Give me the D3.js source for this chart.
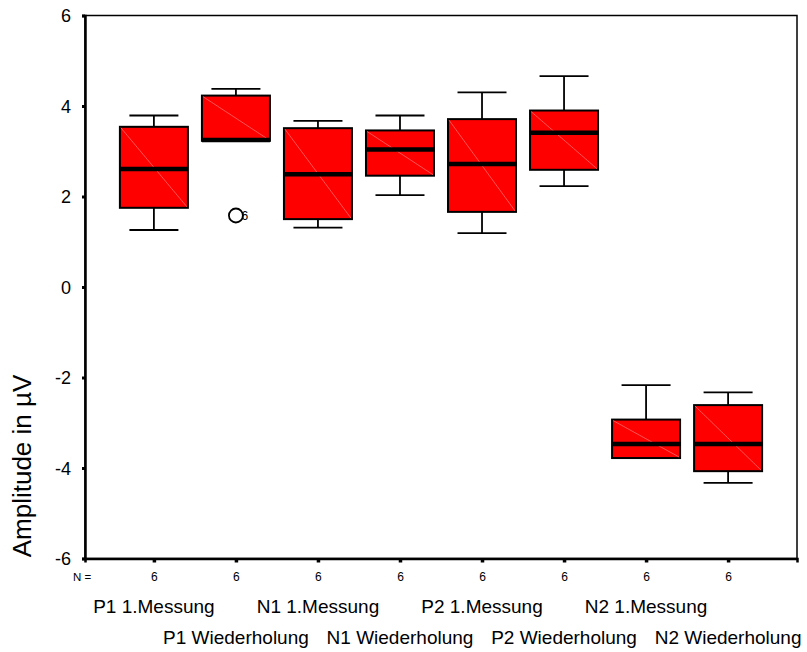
<!DOCTYPE html>
<html>
<head>
<meta charset="utf-8">
<script src="https://cdn.jsdelivr.net/npm/d3@7"></script>
<style>
  body { margin: 0; background: #fff; }
  text { font-family: Arial, "Liberation Sans", sans-serif; fill: #000; }
</style>
</head>
<body>
<div id="chart"></div>
<script>
// groups in x order
const categories = ["P1 1.Messung", "P1 Wiederholung", "N1 1.Messung", "N1 Wiederholung",
                    "P2 1.Messung", "P2 Wiederholung", "N2 1.Messung", "N2 Wiederholung"];
const nValues   = [6, 6, 6, 6, 6, 6, 6, 6];
const whiskerLo = [1.26, 3.23, 1.31, 2.03, 1.19, 2.23, -3.78, -4.33];
const q1        = [1.75, 3.23, 1.50, 2.46, 1.66, 2.59, -3.78, -4.07];
const medians   = [2.61, 3.25, 2.49, 3.04, 2.72, 3.41, -3.47, -3.47];
const q3        = [3.54, 4.23, 3.51, 3.46, 3.71, 3.90, -2.93, -2.61];
const whiskerHi = [3.79, 4.38, 3.67, 3.79, 4.30, 4.66, -2.17, -2.33];
// outliers: group index, value, case label
const outliers  = [{ group: 1, value: 1.58, label: "6" }];
const yTicks    = [-6, -4, -2, 0, 2, 4, 6];

const width = 807, height = 652;
const margin = { top: 15.5, right: 10, bottom: 93.5, left: 85 };

const svg = d3.select("#chart").append("svg")
  .attr("width", width)
  .attr("height", height);

const x = d3.scalePoint()
  .domain(categories)
  .range([margin.left, width - margin.right])
  .padding(0.84);

const y = d3.scaleLinear()
  .domain([-6, 6])
  .range([height - margin.bottom, margin.top]);

const boxW = 68, capW = 49;

const data = categories.map((c, i) => ({
  cat: c, lo: whiskerLo[i], q1: q1[i], med: medians[i], q3: q3[i], hi: whiskerHi[i]
}));

// frame
svg.append("rect")
  .attr("x", margin.left)
  .attr("y", margin.top)
  .attr("width", width - margin.right - margin.left)
  .attr("height", y(-6) - margin.top)
  .attr("fill", "none")
  .attr("stroke", "#000")
  .attr("stroke-width", 1.5);

const boxes = svg.append("g").selectAll("g")
  .data(data)
  .enter().append("g")
  .attr("transform", d => "translate(" + x(d.cat) + ",0)");

// whiskers
boxes.append("line")
  .attr("y1", d => y(d.hi)).attr("y2", d => y(d.q3))
  .attr("stroke", "#000").attr("stroke-width", 1.8);
boxes.append("line")
  .attr("y1", d => y(d.lo)).attr("y2", d => y(d.q1))
  .attr("stroke", "#000").attr("stroke-width", 1.8);
boxes.filter(d => d.hi > d.q3).append("line")
  .attr("x1", -capW / 2).attr("x2", capW / 2)
  .attr("y1", d => y(d.hi)).attr("y2", d => y(d.hi))
  .attr("stroke", "#000").attr("stroke-width", 1.8);
boxes.filter(d => d.lo < d.q1).append("line")
  .attr("x1", -capW / 2).attr("x2", capW / 2)
  .attr("y1", d => y(d.lo)).attr("y2", d => y(d.lo))
  .attr("stroke", "#000").attr("stroke-width", 1.8);

// box body
boxes.append("rect")
  .attr("x", -boxW / 2)
  .attr("y", d => y(d.q3))
  .attr("width", boxW)
  .attr("height", d => y(d.q1) - y(d.q3))
  .attr("fill", "#ff0000")
  .attr("stroke", "#000")
  .attr("stroke-width", 2);

// faint diagonal
boxes.append("line")
  .attr("x1", -boxW / 2 + 1).attr("x2", boxW / 2 - 1)
  .attr("y1", d => y(d.q3) + 1).attr("y2", d => y(d.q1) - 1)
  .attr("stroke", "#ff6a6a").attr("stroke-width", 0.8);

// median
boxes.append("line")
  .attr("x1", -boxW / 2).attr("x2", boxW / 2)
  .attr("y1", d => y(d.med)).attr("y2", d => y(d.med))
  .attr("stroke", "#000").attr("stroke-width", 4.5);

// outliers
const out = svg.append("g").selectAll("g")
  .data(outliers)
  .enter().append("g")
  .attr("transform", d => "translate(" + x(categories[d.group]) + "," + y(d.value) + ")");
out.append("circle")
  .attr("r", 7)
  .attr("fill", "#fff")
  .attr("stroke", "#000")
  .attr("stroke-width", 1.8);
out.append("text")
  .attr("x", 5.5)
  .attr("y", 4.5)
  .attr("font-size", 12)
  .text(d => d.label);

// y axis
const yAxis = svg.append("g")
  .attr("transform", "translate(" + margin.left + ",0)")
  .call(d3.axisLeft(y).tickValues(yTicks).tickSize(3).tickPadding(11).tickFormat(d => String(d)));
yAxis.select(".domain").attr("stroke", "#000").attr("stroke-width", 2.5);
yAxis.selectAll(".tick line").attr("stroke-width", 3);
yAxis.selectAll(".tick text").attr("font-size", 18).attr("font-family", "Arial, 'Liberation Sans', sans-serif").attr("dy", "0.35em");

// x axis with N counts
const xAxis = svg.append("g")
  .attr("transform", "translate(0," + y(-6) + ")")
  .call(d3.axisBottom(x).tickSize(4).tickPadding(10).tickFormat((d, i) => nValues[i]));
xAxis.select(".domain").attr("stroke", "#000").attr("stroke-width", 2.5);
xAxis.selectAll(".tick line").attr("stroke-width", 3.5);
xAxis.selectAll(".tick text").attr("font-size", 12).attr("font-family", "Arial, 'Liberation Sans', sans-serif");

svg.append("text")
  .attr("x", 73)
  .attr("y", 581)
  .attr("font-size", 11.5)
  .text("N =");

// staggered category labels
svg.append("g").selectAll("text")
  .data(categories)
  .enter().append("text")
  .attr("x", d => x(d))
  .attr("y", (d, i) => i % 2 === 0 ? 613 : 644)
  .attr("text-anchor", "middle")
  .attr("font-size", 19)
  .text(d => d);

// y label
svg.append("text")
  .attr("transform", "translate(31,466) rotate(-90)")
  .attr("text-anchor", "middle")
  .attr("font-size", 26)
  .text("Amplitude in µV");
</script>
</body>
</html>
